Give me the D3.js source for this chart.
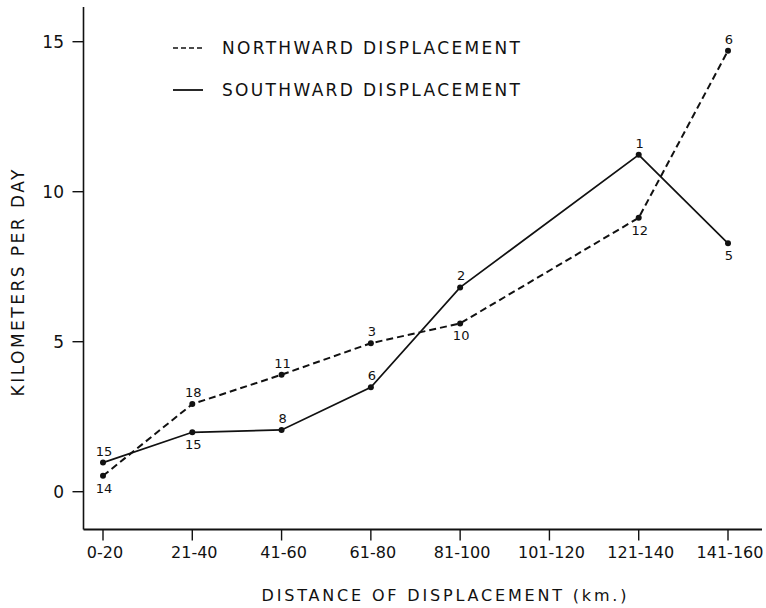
<!DOCTYPE html>
<html>
<head>
<meta charset="utf-8">
<script src="https://cdn.jsdelivr.net/npm/d3@7/dist/d3.min.js"></script>
<style>
  html, body { margin: 0; padding: 0; background: #fff; }
  svg { display: block; }
  text { font-family: "DejaVu Sans", "Liberation Sans", sans-serif; fill: #111; }
</style>
</head>
<body>
<svg id="chart" width="766" height="608"></svg>
<script>
// ---- data ----
const categories = ["0-20", "21-40", "41-60", "61-80", "81-100", "101-120", "121-140", "141-160"];
const northward = [0.53, 2.92, 3.9, 4.95, 5.61, null, 9.13, 14.7];
const northwardN = [14, 18, 11, 3, 10, null, 12, 6];
const southward = [0.97, 1.98, 2.06, 3.48, 6.81, null, 11.23, 8.28];
const southwardN = [15, 15, 8, 6, 2, null, 1, 5];
const yTicks = [0, 5, 10, 15];
const legendLabels = ["NORTHWARD DISPLACEMENT", "SOUTHWARD DISPLACEMENT"];
const xTitle = "DISTANCE OF DISPLACEMENT (km.)";
const yTitle = "KILOMETERS PER DAY";

// label placement (style): above / below the point
const northPlace = ["below", "above", "above", "above", "below", null, "below", "above"];
const southPlace = ["above", "below", "above", "above", "above", null, "above", "below"];

// ---- layout ----
const svg = d3.select("#chart");
const axisX = 83.5, axisTop = 7, axisBottom = 529.5, axisRight = 762;

const x = d3.scalePoint().domain(categories).range([103, 728]);
const y = d3.scaleLinear().domain([0, 15]).range([491.7, 41.7]);

// axes lines
svg.append("line").attr("x1", axisX).attr("x2", axisX).attr("y1", axisTop).attr("y2", axisBottom)
  .attr("stroke", "#111").attr("stroke-width", 1.6);
svg.append("line").attr("x1", axisX).attr("x2", axisRight).attr("y1", axisBottom).attr("y2", axisBottom)
  .attr("stroke", "#111").attr("stroke-width", 1.8);

// y ticks
const yg = svg.append("g");
yTicks.forEach(t => {
  yg.append("line").attr("x1", axisX - 11).attr("x2", axisX).attr("y1", y(t)).attr("y2", y(t))
    .attr("stroke", "#111").attr("stroke-width", 1.4);
  yg.append("text").attr("x", 64).attr("y", y(t)).attr("dy", "0.36em")
    .attr("text-anchor", "end").attr("font-size", 17).text(t);
});

// x ticks
const xg = svg.append("g");
categories.forEach(c => {
  xg.append("line").attr("x1", x(c)).attr("x2", x(c)).attr("y1", axisBottom).attr("y2", axisBottom + 11)
    .attr("stroke", "#111").attr("stroke-width", 1.4);
  xg.append("text").attr("x", x(c) + 2).attr("y", 552).attr("dy", "0.36em")
    .attr("text-anchor", "middle").attr("font-size", 16).text(c);
});

// titles
svg.append("text").attr("x", 444).attr("y", 595).attr("dy", "0.36em")
  .attr("text-anchor", "middle").attr("font-size", 16)
  .attr("textLength", 365).attr("lengthAdjust", "spacing").text(xTitle);
svg.append("text").attr("transform", "translate(18,283) rotate(-90)").attr("dy", "0.36em")
  .attr("text-anchor", "middle").attr("font-size", 17)
  .attr("textLength", 227).attr("lengthAdjust", "spacing").text(yTitle);

// legend
const legY = [48, 90];
svg.append("line").attr("x1", 173).attr("x2", 202).attr("y1", legY[0]).attr("y2", legY[0])
  .attr("stroke", "#111").attr("stroke-width", 1.6).attr("stroke-dasharray", "5,3");
svg.append("line").attr("x1", 173).attr("x2", 203).attr("y1", legY[1]).attr("y2", legY[1])
  .attr("stroke", "#111").attr("stroke-width", 1.8);
legendLabels.forEach((l, i) => {
  svg.append("text").attr("x", 222).attr("y", legY[i]).attr("dy", "0.36em")
    .attr("font-size", 17).attr("textLength", 298).attr("lengthAdjust", "spacing").text(l);
});

// series
function drawSeries(values, counts, places, dash) {
  const pts = categories.map((c, i) => ({ c, v: values[i], n: counts[i], p: places[i] }))
    .filter(d => d.v != null);
  const line = d3.line().x(d => x(d.c)).y(d => y(d.v));
  svg.append("path").datum(pts).attr("d", line).attr("fill", "none")
    .attr("stroke", "#111").attr("stroke-width", dash ? 2 : 1.7)
    .attr("stroke-dasharray", dash ? "7,4" : null);
  svg.append("g").selectAll("circle").data(pts).join("circle")
    .attr("cx", d => x(d.c)).attr("cy", d => y(d.v)).attr("r", 3).attr("fill", "#111");
  svg.append("g").selectAll("text").data(pts).join("text")
    .attr("x", d => x(d.c) + 1)
    .attr("y", d => d.p === "above" ? y(d.v) - 7 : y(d.v) + 17)
    .attr("text-anchor", "middle").attr("font-size", 13).text(d => d.n);
}
drawSeries(northward, northwardN, northPlace, true);
drawSeries(southward, southwardN, southPlace, false);
</script>
</body>
</html>
